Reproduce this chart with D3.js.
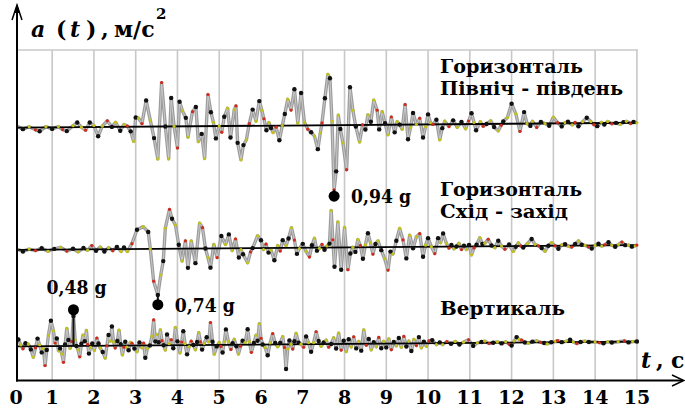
<!DOCTYPE html>
<html>
<head>
<meta charset="utf-8">
<script src="https://cdn.jsdelivr.net/npm/d3@7"></script>
<style>
  body { margin: 0; background: #fff; }
  svg { display: block; }
</style>
</head>
<body>
<svg id="chart" width="685" height="412"></svg>
<script>
// time ticks, seconds
const tickValues = [0, 1, 2, 3, 4, 5, 6, 7, 8, 9, 10, 11, 12, 13, 14, 15];

// component names, one or two lines each
const traceNames = [
  ["Горизонталь", "Північ - південь"],
  ["Горизонталь", "Схід - захід"],
  ["Вертикаль"]
];

// accelerograms: [t (s), a (m/s^2)]
const nsTrace = [
  [0,0],[0.15,0.2],[0.3,-0.2],[0.45,0.1],[0.6,-0.3],[0.7,-0.5],[0.85,0.1],[1.0,-0.2],[1.15,0.1],[1.25,-0.3],
  [1.35,-0.5],[1.5,0.2],[1.6,0.6],[1.7,0],[1.8,-0.4],[1.9,0.6],[2.0,0.2],[2.1,-1.2],[2.2,0.1],[2.32,0.8],
  [2.43,0],[2.52,0.6],[2.63,-0.5],[2.72,0.3],[2.8,0.1],[2.88,-0.6],[2.95,-1.9],[3.0,1.2],[3.07,1.1],[3.15,0.4],
  [3.25,3.4],[3.35,0.8],[3.44,-1.5],[3.53,-4.2],[3.62,5.7],[3.71,0],[3.79,-4.2],[3.85,3.7],[3.92,0],[4.0,-2.8],
  [4.05,3.2],[4.12,2.0],[4.2,1.1],[4.25,-1.4],[4.36,1.9],[4.44,2.5],[4.5,-2.0],[4.58,-1.0],[4.65,-4.2],[4.73,4.1],
  [4.8,1.8],[4.86,0.5],[4.92,-1.6],[5.0,0],[5.06,-0.8],[5.12,1.2],[5.2,2.3],[5.27,-1.5],[5.36,2.1],[5.4,2.6],
  [5.44,-2.2],[5.52,-4.4],[5.58,-2.5],[5.65,-1.8],[5.72,0.3],[5.8,2.1],[5.88,0.6],[5.96,3.2],[6.02,2.0],[6.07,0.9],
  [6.13,-0.6],[6.19,0.4],[6.24,-0.3],[6.29,-0.9],[6.36,-0.2],[6.44,-1.9],[6.51,0],[6.57,1.5],[6.64,3.4],[6.72,2.0],
  [6.8,4.7],[6.88,0.3],[6.96,4.2],[7.04,0.4],[7.12,-0.5],[7.2,-0.9],[7.28,-1.4],[7.36,-3.1],[7.42,-1.0],[7.46,0.3],
  [7.53,3.5],[7.6,6.6],[7.65,6.1],[7.7,0.5],[7.75,-8.4],[7.8,-6.0],[7.85,1.3],[7.9,-0.5],[7.96,-2.3],[8.05,-5.8],
  [8.13,4.9],[8.2,1.9],[8.27,-0.2],[8.36,-2.2],[8.43,0],[8.5,-0.6],[8.56,1.3],[8.63,0.4],[8.7,3.2],[8.78,1.9],
  [8.83,-0.6],[8.9,1.7],[8.97,0.2],[9.04,-1.3],[9.12,1.0],[9.2,-1.0],[9.26,0.4],[9.32,0],[9.38,-0.6],[9.45,2.6],
  [9.52,-1.9],[9.58,-0.4],[9.64,1.5],[9.72,0],[9.8,0.8],[9.88,-1.7],[9.94,-0.3],[10.0,1.3],[10.06,0.2],[10.12,0],
  [10.2,0.6],[10.28,-2.0],[10.34,-0.5],[10.4,0.4],[10.5,-0.3],[10.6,0.5],[10.7,-0.4],[10.8,0.3],[10.9,-0.6],[10.97,0.4],
  [11.04,1.4],[11.1,0.2],[11.15,-0.8],[11.25,0.3],[11.32,-0.3],[11.4,0],[11.5,0.4],[11.58,-0.4],[11.68,-0.9],[11.75,-0.2],
  [11.8,0.3],[11.9,0.8],[12.0,2.6],[12.1,1.3],[12.2,-1.0],[12.3,1.5],[12.37,0],[12.45,-0.3],[12.5,0.3],[12.6,-0.5],
  [12.7,0.2],[12.8,0],[12.9,-0.3],[13.0,0.8],[13.1,0.1],[13.2,-0.4],[13.28,0.1],[13.35,0.2],[13.45,-0.2],[13.52,0.1],
  [13.6,-0.4],[13.7,0.2],[13.8,0.7],[13.9,0.2],[13.97,-0.2],[14.05,-0.4],[14.15,0.1],[14.22,-0.2],[14.3,0.2],[14.4,-0.1],
  [14.5,0],[14.6,-0.2],[14.68,0.1],[14.75,0.2],[14.85,-0.1],[14.92,0.1],[15.0,0]
];

const ewTrace = [
  [0,0],[0.15,0.1],[0.3,-0.2],[0.45,0.1],[0.6,-0.1],[0.75,0.2],[0.9,-0.2],[1.05,0.1],[1.2,0.3],[1.35,-0.2],
  [1.5,0.1],[1.62,-0.3],[1.75,0.2],[1.85,-0.1],[1.95,0.5],[2.05,-0.2],[2.15,0.3],[2.25,-0.3],[2.35,0.2],[2.45,-0.2],
  [2.55,0.3],[2.65,-0.3],[2.72,0.2],[2.8,-0.3],[2.91,0.7],[3.03,2.5],[3.18,2.9],[3.3,2.2],[3.35,0],[3.43,-4.2],
  [3.53,-6.0],[3.6,-3.4],[3.66,-1.6],[3.71,2.7],[3.81,5.1],[3.87,3.9],[3.95,3.1],[4.03,0.5],[4.11,-1.6],[4.19,1.0],
  [4.25,-2.5],[4.33,1.0],[4.43,-1.9],[4.53,3.3],[4.6,2.7],[4.67,0],[4.73,-1.2],[4.79,-2.5],[4.87,0.5],[4.95,-1.2],
  [5.05,1.6],[5.15,0.5],[5.23,1.8],[5.31,-0.3],[5.39,1.2],[5.47,-1.2],[5.52,-0.2],[5.57,-0.8],[5.68,-1.9],[5.75,-0.5],
  [5.8,0],[5.92,1.6],[6.0,1.0],[6.06,-0.2],[6.12,0.5],[6.18,-0.6],[6.24,-0.3],[6.32,-1.6],[6.4,0.3],[6.46,-0.4],
  [6.52,1.0],[6.6,0.3],[6.66,1.2],[6.73,2.6],[6.8,1.0],[6.86,-0.8],[6.92,-0.1],[7.0,0.5],[7.08,-0.5],[7.16,-1.2],
  [7.22,0.3],[7.28,1.2],[7.34,-0.4],[7.4,-0.1],[7.46,0.4],[7.52,-0.3],[7.58,0.2],[7.64,0.5],[7.68,4.8],[7.72,1.0],
  [7.76,-2.5],[7.84,3.3],[7.92,-2.9],[8.0,2.6],[8.08,-2.9],[8.14,-0.8],[8.2,0],[8.26,-0.6],[8.32,1.0],[8.38,0.2],
  [8.44,-1.5],[8.5,0.3],[8.56,1.8],[8.62,0.6],[8.68,-0.9],[8.74,0.4],[8.8,0.8],[8.88,-0.4],[8.96,-1.5],[9.04,-3.0],
  [9.1,-0.6],[9.16,-0.9],[9.24,0.8],[9.32,2.4],[9.4,0.9],[9.48,-1.5],[9.56,1.5],[9.64,-0.2],[9.72,1.3],[9.8,1.7],
  [9.88,-1.3],[9.94,0.2],[10.0,1.1],[10.08,0],[10.16,-0.9],[10.24,1.1],[10.3,0.5],[10.36,1.7],[10.44,0.4],[10.5,-0.2],
  [10.56,0.2],[10.62,-0.3],[10.68,0],[10.74,0.4],[10.8,-0.4],[10.86,0.1],[10.92,-0.4],[10.98,0.2],[11.04,-1.1],[11.1,-0.2],
  [11.16,0.2],[11.24,1.1],[11.3,0.3],[11.36,0.4],[11.44,0.9],[11.52,0.1],[11.6,-0.2],[11.68,0.7],[11.76,0],[11.84,-0.4],
  [11.94,0.2],[12.04,-0.7],[12.1,-0.1],[12.16,0.4],[12.22,0],[12.28,-0.2],[12.38,0.3],[12.48,0.9],[12.56,0.2],[12.64,0],
  [12.72,-0.3],[12.8,-0.7],[12.88,0],[12.96,0.4],[13.04,0],[13.12,-0.4],[13.2,0.1],[13.28,0.2],[13.36,-0.1],[13.44,-0.2],
  [13.52,0.2],[13.6,0.6],[13.68,0.1],[13.76,0],[13.84,-0.2],[13.92,-0.4],[14.0,0],[14.08,0.2],[14.16,-0.1],[14.24,0.1],
  [14.32,0.4],[14.4,0],[14.48,-0.2],[14.56,0.1],[14.64,0.4],[14.72,0],[14.8,0],[14.88,-0.2],[14.96,-0.1],[15,0]
];

const vTrace = [
  [0,0],[0.1,0.3],[0.19,0.9],[0.25,0.2],[0.3,-0.3],[0.36,0.4],[0.43,0.3],[0.49,-0.4],[0.55,-1.4],[0.6,-0.2],
  [0.65,1.0],[0.7,0.2],[0.75,-0.8],[0.79,-0.3],[0.83,-2.5],[0.87,-0.5],[0.91,1.4],[0.97,3.3],[1.03,2.0],[1.07,0.4],
  [1.11,1.0],[1.15,-0.6],[1.19,-0.3],[1.23,-1.0],[1.27,-2.1],[1.31,0.2],[1.35,2.3],[1.39,0.8],[1.43,-0.3],[1.47,0.6],
  [1.51,3.9],[1.55,0.8],[1.58,0],[1.62,-0.5],[1.66,-1.4],[1.7,0.3],[1.74,1.4],[1.78,0.6],[1.82,2.0],[1.85,0.2],
  [1.88,-1.0],[1.92,-0.2],[1.96,0.3],[2.01,-0.6],[2.07,1.0],[2.11,0.3],[2.15,-0.3],[2.21,-0.8],[2.27,-1.6],[2.31,0],
  [2.35,1.4],[2.39,0.6],[2.43,2.5],[2.47,0.5],[2.51,-0.3],[2.56,0.6],[2.6,2.0],[2.64,0.2],[2.68,-1.2],[2.72,-0.2],
  [2.75,0.5],[2.79,-0.2],[2.83,-0.6],[2.87,0.4],[2.91,0.3],[2.97,-0.4],[3.03,-0.8],[3.09,0.4],[3.15,-0.3],[3.19,0.3],
  [3.23,-1.6],[3.28,-0.4],[3.34,0],[3.39,1.2],[3.43,3.3],[3.47,0.5],[3.51,1.4],[3.55,0.4],[3.59,2.0],[3.63,0.6],
  [3.67,0],[3.71,-0.6],[3.75,1.4],[3.8,0.2],[3.85,0.7],[3.9,-0.4],[3.95,2.3],[4.0,0.5],[4.06,-1.0],[4.1,0.4],
  [4.14,1.8],[4.18,0.2],[4.23,-1.2],[4.28,-0.2],[4.33,0.5],[4.38,0],[4.43,-0.6],[4.47,0.4],[4.51,1.6],[4.55,0.4],
  [4.59,-0.6],[4.64,0.2],[4.7,1.0],[4.75,0.4],[4.79,2.9],[4.84,0.4],[4.88,-1.2],[4.94,-0.2],[5.0,0.3],[5.04,-0.2],
  [5.08,-1.0],[5.12,0.4],[5.16,2.0],[5.22,0.4],[5.28,-0.6],[5.32,0.2],[5.36,0.7],[5.41,-0.2],[5.46,-1.2],[5.51,-0.2],
  [5.56,0.5],[5.62,0.3],[5.68,2.0],[5.72,0.4],[5.77,-1.0],[5.83,0.2],[5.88,1.2],[5.92,0.5],[5.96,2.7],[6.0,0.8],
  [6.04,0],[6.1,-0.4],[6.16,-1.4],[6.22,0.2],[6.28,1.4],[6.34,0.2],[6.4,-0.3],[6.46,0.2],[6.52,1.0],[6.56,-0.4],
  [6.6,-3.2],[6.64,-0.6],[6.68,0.5],[6.72,0],[6.76,-0.6],[6.8,0.4],[6.84,1.4],[6.9,0.2],[6.96,0],[7.02,-0.4],
  [7.08,1.0],[7.14,0.2],[7.2,-1.0],[7.26,0.2],[7.32,1.6],[7.38,0.4],[7.44,-0.3],[7.5,0.2],[7.56,0.5],[7.62,-0.4],
  [7.68,0],[7.74,0.8],[7.8,-0.6],[7.86,1.4],[7.92,-0.8],[7.98,0.4],[8.04,-1.0],[8.1,0.6],[8.16,-0.4],[8.22,0.9],
  [8.28,-0.6],[8.34,0.3],[8.4,-0.9],[8.46,1.8],[8.52,-0.2],[8.58,0.6],[8.64,-0.8],[8.7,0.2],[8.76,-0.4],[8.82,0.8],
  [8.88,-0.6],[8.94,0.3],[9.0,-0.5],[9.06,0.6],[9.12,-0.8],[9.18,0.2],[9.24,-0.3],[9.3,0.7],[9.36,-0.5],[9.42,0.9],
  [9.48,-0.4],[9.54,0.3],[9.6,-1.0],[9.66,0.5],[9.72,-0.3],[9.78,0.8],[9.84,-0.6],[9.9,0.2],[9.96,-0.4],[10.02,0.3],
  [10.1,0.4],[10.2,-0.2],[10.28,0.1],[10.35,-0.2],[10.45,0.2],[10.55,-0.1],[10.65,0.2],[10.75,-0.2],[10.85,0.1],[10.97,0.4],
  [11.08,-0.4],[11.18,0],[11.28,0.1],[11.36,0.2],[11.46,-0.1],[11.56,0],[11.66,0.1],[11.76,-0.1],[11.86,0.1],[11.94,-0.2],
  [12.0,-0.4],[12.06,0.2],[12.12,0.7],[12.18,0.4],[12.24,0.3],[12.32,0],[12.4,-0.1],[12.5,0.1],[12.6,0.2],[12.7,0],
  [12.78,-0.1],[12.85,-0.2],[12.95,0],[13.05,0.1],[13.1,0.2],[13.2,0],[13.3,0.1],[13.4,0.3],[13.48,0],[13.56,-0.2],
  [13.65,0],[13.75,0.1],[13.85,0],[14.0,0],[14.1,-0.1],[14.2,-0.2],[14.3,0],[14.4,-0.1],[14.55,0],[14.7,0.1],
  [14.8,-0.1],[14.9,0],[15,0]
];

// marked peaks
const peakText = ["0,94 g", "0,74 g", "0,48 g"];
const peakTime = [7.75, 3.53, 1.51];
const peakG = [-0.94, -0.74, 0.48];
const G = 9.81;

const traces = [nsTrace, ewTrace, vTrace];

const svg = d3.select("#chart");
const serif = "'DejaVu Serif', serif";

// layout
const axisX = 17, axisY = 380.5, topY = 50, rightX = 637;
const x = d3.scaleLinear().domain([0, 15]).range([10.4, 636.9]);
const amp = d3.scaleLinear().domain([-10, 10]).range([77, -77]);
const baseY = [127.7, 250, 346.5];   // zero line of each trace at t = 0
const tilt = -0.33;                   // the scan is a bit skewed, px per second
const yOf = (i, t, a) => baseY[i] + tilt * t + amp(a);

svg.append("rect").attr("width", 685).attr("height", 412).attr("fill", "#fff");

svg.append("clipPath").attr("id", "plot")
  .append("rect").attr("x", axisX).attr("y", 0).attr("width", rightX - axisX + 2).attr("height", axisY);

// grid
svg.append("g").selectAll("line")
  .data(tickValues.filter(d => d > 0))
  .join("line")
  .attr("x1", d => x(d)).attr("x2", d => x(d))
  .attr("y1", topY).attr("y2", axisY)
  .attr("stroke", "#c8c8c8").attr("stroke-width", 1.6);

svg.append("line")
  .attr("x1", axisX).attr("x2", rightX + 1)
  .attr("y1", topY).attr("y2", topY)
  .attr("stroke", "#c8c8c8").attr("stroke-width", 1.6);

// traces
const dotColors = ["#111", "#c2c21a", "#111", "#c2c21a", "#d12a1a"];
const plot = svg.append("g").attr("clip-path", "url(#plot)");

traces.forEach(function(tr, i) {
  const line = d3.line()
    .x(d => x(d[0]))
    .y(d => yOf(i, d[0], d[1]));

  plot.append("path")
    .datum(tr)
    .attr("d", line)
    .attr("fill", "none")
    .attr("stroke", "#9c9c9c")
    .attr("stroke-width", 3.4)
    .attr("stroke-linejoin", "round");

  plot.append("path")
    .datum(tr)
    .attr("d", line)
    .attr("fill", "none")
    .attr("stroke", "#d4d4d4")
    .attr("stroke-width", 0.8)
    .attr("stroke-linejoin", "round");

  plot.append("line")
    .attr("x1", axisX).attr("x2", rightX)
    .attr("y1", yOf(i, x.invert(axisX), 0)).attr("y2", yOf(i, 15, 0))
    .attr("stroke", "#000").attr("stroke-width", 1.8);

  plot.append("g").selectAll("circle")
    .data(tr)
    .join("circle")
    .attr("cx", d => x(d[0]))
    .attr("cy", d => yOf(i, d[0], d[1]))
    .attr("r", (d, j) => dotColors[j % 5] === "#111" ? 2.2 : 1.6)
    .attr("fill", (d, j) => dotColors[j % 5]);
});

// peak markers
peakText.forEach(function(txt, i) {
  const t = peakTime[i];
  const near = d3.least(traces[i], d => Math.abs(d[0] - t));
  const cx = x(t);
  const cy = yOf(i, t, peakG[i] * G);
  const above = peakG[i] > 0;
  svg.append("line")
    .attr("x1", cx).attr("x2", cx)
    .attr("y1", yOf(i, t, above ? 0 : near[1])).attr("y2", cy)
    .attr("stroke", "#111").attr("stroke-width", 2);
  svg.append("circle")
    .attr("cx", cx).attr("cy", cy).attr("r", 5.5).attr("fill", "#000");
  svg.append("text")
    .attr("x", above ? cx + 3 : cx + 17)
    .attr("y", above ? cy - 16 : cy + 7)
    .attr("text-anchor", above ? "middle" : "start")
    .attr("font-family", serif).attr("font-weight", "bold").attr("font-size", 18)
    .attr("textLength", 60).attr("lengthAdjust", "spacingAndGlyphs")
    .text(txt);
});

// component names
const nameY = [[73, 95], [196, 218], [315]];
const nameW = [[143, 183], [142, 128], [125]];
traceNames.forEach(function(lines, i) {
  lines.forEach(function(s, j) {
    svg.append("text")
      .attr("x", 440).attr("y", nameY[i][j])
      .attr("font-family", serif).attr("font-weight", "bold").attr("font-size", 19)
      .attr("textLength", nameW[i][j]).attr("lengthAdjust", "spacingAndGlyphs")
      .text(s);
  });
});

// axes
svg.append("line")
  .attr("x1", axisX).attr("x2", axisX).attr("y1", 6).attr("y2", axisY + 1)
  .attr("stroke", "#000").attr("stroke-width", 2);
svg.append("line")
  .attr("x1", axisX - 1).attr("x2", 683).attr("y1", axisY).attr("y2", axisY)
  .attr("stroke", "#000").attr("stroke-width", 2);
svg.append("path")
  .attr("d", `M${axisX - 5},20 L${axisX},5 L${axisX + 5},20`)
  .attr("fill", "none").attr("stroke", "#000").attr("stroke-width", 1.5);
svg.append("path")
  .attr("d", `M${axisX - 3},13 L${axisX},4 L${axisX + 3},13 Z`).attr("fill", "#000");
svg.append("path")
  .attr("d", `M672,375 L684,${axisY} L672,386`)
  .attr("fill", "none").attr("stroke", "#000").attr("stroke-width", 1.5);

// tick labels
svg.append("g").selectAll("text")
  .data(tickValues)
  .join("text")
  .attr("x", d => Math.max(x(d), axisX - 1))
  .attr("y", 404)
  .attr("text-anchor", "middle")
  .attr("font-family", serif).attr("font-weight", "bold").attr("font-size", 19)
  .text(d => d);

// axis titles
const yTitle = svg.append("text")
  .attr("y", 37)
  .attr("font-family", serif).attr("font-weight", "bold").attr("font-size", 22);
yTitle.append("tspan").attr("x", 31).attr("font-style", "italic").text("a");
yTitle.append("tspan").attr("x", 56).text("(");
yTitle.append("tspan").attr("x", 70).attr("font-style", "italic").text("t");
yTitle.append("tspan").attr("x", 86).text(")");
yTitle.append("tspan").attr("x", 101).text(",");
yTitle.append("tspan").attr("x", 114).text("м/с");
yTitle.append("tspan").attr("x", 156).attr("y", 19).attr("font-size", 15).text("2");

const xTitle = svg.append("text")
  .attr("y", 368)
  .attr("font-family", serif).attr("font-weight", "bold").attr("font-size", 22);
xTitle.append("tspan").attr("x", 641).attr("font-style", "italic").text("t");
xTitle.append("tspan").attr("x", 656).text(",");
xTitle.append("tspan").attr("x", 671).text("с");
</script>
</body>
</html>
